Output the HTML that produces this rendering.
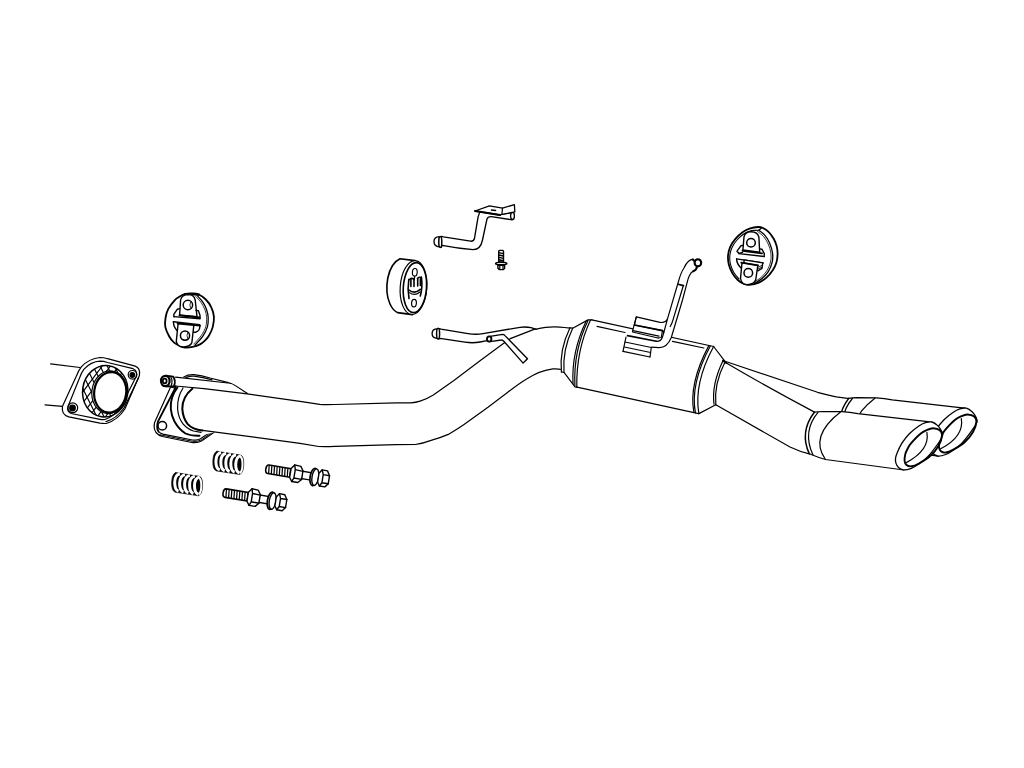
<!DOCTYPE html>
<html lang="en">
<head>
<meta charset="utf-8">
<title>Exhaust system diagram</title>
<style>
html,body{margin:0;padding:0;background:#fff;}
body{width:1024px;height:768px;overflow:hidden;font-family:"Liberation Sans",sans-serif;}
svg{display:block;position:absolute;left:0;top:0;}
.d{fill:none;stroke:#000;stroke-width:1.2;stroke-linecap:round;stroke-linejoin:round;}
.d .w{fill:#fff;}
.d .k{fill:#000;}
.d .t{stroke-width:1.6;}
.d .h{stroke-width:0.8;}
</style>
</head>
<body>
<svg class="d" width="1024" height="768" viewBox="0 0 1024 768">
<!--GASKET-->
<g id="gasket">
<path d="M50.6,363.8 L80,367.5"/>
<path d="M45,404.8 L62.5,406.3"/>
<path class="w" d="M81.3,366.9 Q89,358.5 100,357.5 Q104,357.6 107.5,358.7 L135.2,366.1 Q140.6,368 139.4,375.4 L125,408.8 Q118,420 106.3,423.5 Q103,423.6 100,423.1 L68.8,416.9 Q61,414.5 62.5,406.3 L76.3,376.3 Q78.5,370.5 81.3,366.9 Z"/>
<path d="M83.8,369.4 Q91,361.5 100,361.2 Q104,361.2 107.5,362.5 L133,368.7 Q137.5,370.5 136.3,376.2 L121,406.5 Q115,416 105,419.5 Q102,419.8 100,419.3 L71,413.5 Q66.5,411.5 68.1,406.3 L79.5,378 Q81.5,372.5 83.8,369.4 Z"/>
<path d="M138.5,378 L124,408 Q116,419 106,421.6"/>
<ellipse cx="105.2" cy="391.2" rx="22.6" ry="25.8" transform="rotate(8 105.2 391.2)" style="stroke-width:1.5"/>
<clipPath id="mc"><ellipse cx="105.2" cy="391.2" rx="22.6" ry="25.8" transform="rotate(8 105.2 391.2)"/></clipPath>
<g clip-path="url(#mc)" style="stroke-width:1.15"><path d="M109.4,341.6 L145.2,413.1 M103.7,344.4 L139.4,416.0 M97.9,347.3 L133.7,418.9 M92.2,350.2 L128.0,421.7 M86.5,353.0 L122.3,424.6 M80.8,355.9 L116.5,427.4 M75.0,358.8 L110.8,430.3 M69.3,361.6 L105.1,433.2 M63.6,364.5 L99.4,436.0 M57.9,367.3 L93.6,438.9 M52.1,370.2 L87.9,441.8"/><path d="M155.7,382.8 L107.7,446.8 M150.4,378.8 L102.4,442.8 M145.1,374.8 L97.1,438.8 M139.8,370.9 L91.8,434.9 M134.6,366.9 L86.6,430.9 M129.3,363.0 L81.3,427.0 M124.0,359.0 L76.0,423.0 M118.7,355.0 L70.7,419.0 M113.4,351.1 L65.4,415.1 M108.2,347.1 L60.2,411.1 M102.9,343.2 L54.9,407.2 M97.6,339.2 L49.6,403.2 M92.3,335.2 L44.3,399.2"/></g>
<ellipse class="w" cx="109.3" cy="392.2" rx="17.4" ry="21.4" transform="rotate(8 109.3 392.2)"/>
<ellipse class="w" cx="110.2" cy="392.3" rx="16" ry="20.3" transform="rotate(8 110.2 392.3)" style="stroke-width:2.2"/>
<circle cx="132.5" cy="374.8" r="4.3"/>
<circle class="k" cx="132.3" cy="375" r="2.3"/>
<circle cx="72.8" cy="407.8" r="4.9"/>
<circle class="k" cx="72.5" cy="408" r="2.8"/>
</g>
<!--FLANGE-->
<g id="flange">
<path d="M183.8,376.9 Q188,374.3 193.8,374.6 Q202,375.5 210,378 L227.5,382.3 Q232,383.5 235,385.6 L247.5,393.6"/>
<path d="M186,377.6 Q190,376 194,376.2 Q203,377.3 212,379.8"/>
<path class="w" d="M170.6,387 L154.6,422.5 Q153.2,428 156,432.5 Q158.5,435.5 162.5,436.5 L191.8,442.5 Q197.5,443.2 201.5,441 L213.8,432.5 L200,395 Z" />
<path d="M175.6,387.3 L158,421.5 Q156,427.5 158.5,431.5" style="stroke-width:1.8"/>
<path d="M158.8,431.9 Q160.5,433.6 163,434.2 L192.5,440 Q197.5,440.6 200.5,438.8 L210.5,432"/>
<path d="M160,434.8 L192.5,441.3 Q197.5,442 201.2,440 L212,432.6" style="stroke-width:1"/>
<circle class="w" cx="162.3" cy="425.7" r="4.3" style="stroke-width:1.5"/>
<path class="w" d="M177.5,387.3 Q170,397 170.8,408.8 Q171.5,416 174.5,421.5 Q179,429.5 185.5,433.5 Q191,436 199,435.8 L213.8,432.5 L205,389 Z" style="stroke:none"/>
<path d="M177.5,387.3 Q170,397 170.8,408.8 Q171.5,416 174.5,421.5 Q179,429.5 185.5,433.5 Q191,436 199.5,435.8" style="stroke-width:1.9"/>
<path d="M183,388 Q177.2,397 177.6,408.8 Q178.2,418 183,423.8 Q187.5,429 193.5,431 L201,432.3"/>
</g>
<!--PIPE-->
<g id="pipe">
<path class="w" style="stroke:none" d="M192.5,388.2 L247.1,393.8 L300,401.4 L319.7,404.4 L335,404.5 L396,402.8 L410.8,402.8 L420.1,401.1 L433.3,395 L453.9,380.5 L503.4,343.4 L510.9,338.3 L535.3,328.9 L555,326.8 L570,328 L561.4,369.4 L545.6,369.7 L526.9,378.6 L488,407.2 L463.3,425 L448.3,434.4 L429.5,440.9 L415.4,444.5 L396,444.7 L335,446.4 L318.8,446.5 L300,443.3 L202.5,430.3 Q190,428 184.5,416 Q181,402 192.5,388.2 Z"/>
<path d="M175.6,386 L204,388.7 L247.1,393.8 L300,401.4 L319.7,404.4 Q325,404.8 335,404.5 L396,402.8 L410.8,402.8 Q416,402.5 420.1,401.1 Q427,399 433.3,395 L453.9,380.5 L480,360.8 L503.4,343.4 L510.9,338.3"/>
<path d="M536.3,329.2 Q541,328 545.6,327.3 Q551,326.7 555,326.8 Q560,326.9 564.4,327.5 L570,328.2"/>
<path d="M202.5,430.3 L300,443.3 L318.8,446.5 Q325,446.8 335,446.4 L396,444.7 L415.4,444.5 Q423,443.5 429.5,440.9 Q440,438 448.3,434.4 Q456,430 463.3,425 L488,407.2 L508.1,392 Q520,383 527,378.8 Q540,370.5 553,368.9 Q557,368.6 561.4,369.4"/>
<path d="M192.5,388.6 Q182.2,397 182.3,408.8 Q183,418 187.5,423.8 Q192.5,429.5 202.5,430.5" style="stroke-width:2"/>
</g>
<g id="rodfront">
<path class="w" d="M166,375.4 L175.6,377.2 L232,384.2 L243,391.6 L204,387.4 L175.6,385 L166,385.8 Z" style="stroke:none"/>
<path d="M175.6,377.2 L228,383"/>
<path d="M166,375.6 L173,376.6 M166,386.3 L175.6,386.5" style="stroke-width:1.8"/>
<path d="M173.4,376.7 Q176.2,381.5 173.8,386.4" style="stroke-width:1.8"/>
<path d="M170.5,376.3 Q173.3,381 171,386.3"/>
<ellipse class="w" cx="165.3" cy="381" rx="4.3" ry="5.2" style="stroke-width:2.2"/>
<ellipse cx="164.7" cy="381" rx="1.9" ry="2.3" style="stroke-width:1.8"/>
</g>
<!--MUFFLER-->
<g id="ypipe">
<path class="w" style="stroke:none" d="M725,361.5 L833,396.3 L849.3,398 L843,411.3 L814.3,412 L809.3,453.8 L793,448.8 L716.3,405.3 Z"/>
<path d="M725,361.3 L817.5,392.3 Q830,395.6 836.3,396.8 L849.3,398.6"/>
<path d="M726.3,363 Q768,387.5 814.5,412.1"/>
<path d="M715.8,404.8 L790,447 Q800,451.8 809.3,453.8"/>
</g>
<g id="muffler">
<path class="w" style="stroke:none" d="M569.9,327.9 L588,319.9 L713.5,346.4 L725,361.5 L716,404.8 L698.9,413.6 L576.8,387 L561.6,372 Q554,350 569.9,327.9 Z"/>
<path d="M569.9,327.9 Q559.2,349.7 561.4,372"/>
<path d="M572.7,328.2 Q562.3,349.7 564,372.3"/>
<path d="M569.9,327.9 L572.7,328.2 L588,319.9 L592,319.9"/>
<path d="M561.4,372 L564,372.3 L575,386.8 L577.4,387.3"/>
<path d="M586.1,321.2 Q571.4,351.7 573,383.6"/>
<path d="M588,320.4 Q573.3,350.6 574.9,385.8"/>
<path d="M590.5,320 Q576.2,350.3 576.8,386.8"/>
<path d="M591.8,319.9 L713.6,346.5"/>
<path d="M577,387.2 L698.6,413.6"/>
<path d="M708.8,345.6 Q688.5,384 693.9,412.4"/>
<path d="M710.3,346 Q690,384 695.4,412.9"/>
<path d="M713.6,346.5 Q693.5,384 698.9,413.6"/>
<path d="M713.6,346.5 L724.6,360.8"/>
<path d="M698.9,413.6 L715.8,404.8"/>
<path d="M723.1,360.6 Q711.5,384.4 714,404.2"/>
<path d="M725,362 Q713.8,384 715.8,404.8"/>
<path d="M723.1,360.6 L725,362 L726.3,363" style="stroke-width:2"/>
<path d="M597,326.4 L625,332.5"/>
<path d="M672.5,341.3 L703.8,348"/>
</g>
<!--TIPS-->
<g id="tip2" transform="translate(34.4,-13.8)">
<path class="w" style="stroke:none" d="M814.5,412.2 L841.9,411.6 L857.8,413.6 L929.3,421.8 L904,470 L825.5,459.5 L809.3,453.8 Q802,433 814.5,412.2 Z"/>
<path d="M814.5,412.2 Q818,411.6 822,411.5 L841.9,411.6 Q850,412.3 857.8,413.6 L930,421.9"/>
<path d="M809.3,453.8 Q818,457.5 825.5,459.5 L904,470"/>
<path d="M814.3,412.2 Q799.3,432.1 809.3,453.8" style="stroke-width:1.5"/>
<path d="M818,412.3 Q802,431.3 813,455"/>
<path d="M840.5,412 Q808.9,436.4 825.5,459.5"/>
<path class="w" d="M895.5,458.5 C895.7,456.6 896.3,454.8 897.4,452.2 C898.5,449.6 900.1,446.0 902.1,442.9 C904.1,439.8 906.8,436.3 909.6,433.5 C912.4,430.7 916.2,427.8 918.9,426.0 C921.5,424.2 923.3,423.4 925.5,422.7 C927.7,422.0 930.0,421.5 932.0,422.0 C934.0,422.5 936.1,424.1 937.7,425.6 C939.3,427.1 940.8,429.5 941.6,431.2 C942.4,432.9 943.1,433.7 942.6,435.6 C942.1,437.5 941.3,438.9 938.8,442.5 C936.3,446.1 931.0,453.3 927.5,457.0 C924.0,460.7 920.7,462.6 918.0,464.5 C915.3,466.4 913.8,467.4 911.3,468.3 C908.8,469.2 905.4,470.0 903.3,469.8 C901.2,469.6 899.7,468.5 898.5,467.4 C897.3,466.3 896.5,464.9 896.0,463.4 C895.5,461.9 895.3,460.4 895.5,458.5 Z" style="stroke-width:1.3"/>
<path d="M904.6,461.0 C904.4,459.2 904.8,456.2 905.3,454.1 C905.8,452.0 906.7,450.4 907.7,448.5 C908.7,446.6 909.2,445.4 911.4,442.9 C913.6,440.4 918.2,435.6 920.8,433.5 C923.4,431.4 925.0,430.9 927.0,430.0 C929.0,429.1 930.9,428.2 933.0,428.3 C935.1,428.4 938.3,429.1 939.8,430.3 C941.3,431.5 942.2,432.8 942.0,435.4 C941.8,438.0 940.6,442.3 938.6,445.7 C936.6,449.1 933.5,453.0 930.2,456.0 C926.9,459.0 922.0,461.8 918.9,463.5 C915.8,465.2 913.5,466.1 911.4,466.3 C909.3,466.6 907.6,465.9 906.5,465.0 C905.4,464.1 904.8,462.8 904.6,461.0 Z" style="stroke-width:1.9"/>
<path d="M926.9,432.4 Q930,450 906.3,462.6"/>
</g>
<g id="tip1">
<path class="w" style="stroke:none" d="M814.5,412.2 L841.9,411.6 L857.8,413.6 L929.3,421.8 L904,470 L825.5,459.5 L809.3,453.8 Q802,433 814.5,412.2 Z"/>
<path d="M814.5,412.2 Q818,411.6 822,411.5 L841.9,411.6 Q850,412.3 857.8,413.6 L930,421.9"/>
<path d="M809.3,453.8 Q818,457.5 825.5,459.5 L904,470"/>
<path d="M814.3,412.2 Q799.3,432.1 809.3,453.8" style="stroke-width:1.5"/>
<path d="M818,412.3 Q802,431.3 813,455"/>
<path d="M840.5,412 Q808.9,436.4 825.5,459.5"/>
<path class="w" d="M895.5,458.5 C895.7,456.6 896.3,454.8 897.4,452.2 C898.5,449.6 900.1,446.0 902.1,442.9 C904.1,439.8 906.8,436.3 909.6,433.5 C912.4,430.7 916.2,427.8 918.9,426.0 C921.5,424.2 923.3,423.4 925.5,422.7 C927.7,422.0 930.0,421.5 932.0,422.0 C934.0,422.5 936.1,424.1 937.7,425.6 C939.3,427.1 940.8,429.5 941.6,431.2 C942.4,432.9 943.1,433.7 942.6,435.6 C942.1,437.5 941.3,438.9 938.8,442.5 C936.3,446.1 931.0,453.3 927.5,457.0 C924.0,460.7 920.7,462.6 918.0,464.5 C915.3,466.4 913.8,467.4 911.3,468.3 C908.8,469.2 905.4,470.0 903.3,469.8 C901.2,469.6 899.7,468.5 898.5,467.4 C897.3,466.3 896.5,464.9 896.0,463.4 C895.5,461.9 895.3,460.4 895.5,458.5 Z" style="stroke-width:1.3"/>
<path d="M904.6,461.0 C904.4,459.2 904.8,456.2 905.3,454.1 C905.8,452.0 906.7,450.4 907.7,448.5 C908.7,446.6 909.2,445.4 911.4,442.9 C913.6,440.4 918.2,435.6 920.8,433.5 C923.4,431.4 925.0,430.9 927.0,430.0 C929.0,429.1 930.9,428.2 933.0,428.3 C935.1,428.4 938.3,429.1 939.8,430.3 C941.3,431.5 942.2,432.8 942.0,435.4 C941.8,438.0 940.6,442.3 938.6,445.7 C936.6,449.1 933.5,453.0 930.2,456.0 C926.9,459.0 922.0,461.8 918.9,463.5 C915.8,465.2 913.5,466.1 911.4,466.3 C909.3,466.6 907.6,465.9 906.5,465.0 C905.4,464.1 904.8,462.8 904.6,461.0 Z" style="stroke-width:1.9"/>
<path d="M926.9,432.4 Q930,450 906.3,462.6"/>
</g>
<!--HANGERS-->
<g id="hanger1">
<path class="w" d="M191.8,293.4 C189.5,293.3 186.8,293.5 184.7,294.1 C182.6,294.7 181.0,295.8 179.3,296.8 C177.6,297.8 176.4,298.3 174.6,300.3 C172.8,302.3 169.8,306.0 168.3,308.9 C166.8,311.8 166.1,314.5 165.6,317.5 C165.1,320.5 164.7,323.8 165.3,326.9 C165.9,330.0 167.7,333.7 169.1,336.3 C170.5,338.9 172.0,340.7 173.8,342.3 C175.6,343.9 178.1,345.1 180.0,346.0 C181.9,346.9 182.9,347.4 185.0,347.5 C187.1,347.6 190.0,347.4 192.5,346.9 C195.0,346.4 197.9,345.5 200.0,344.4 C202.1,343.3 203.5,341.9 205.0,340.5 C206.5,339.1 207.6,338.1 208.9,335.8 C210.2,333.5 212.0,330.1 212.8,326.9 C213.6,323.7 214.2,320.0 213.9,316.7 C213.7,313.4 212.7,310.2 211.3,307.3 C210.0,304.4 207.9,301.6 205.8,299.5 C203.7,297.4 201.1,295.5 198.8,294.5 C196.5,293.5 194.2,293.5 191.8,293.4 Z" style="stroke-width:1.8"/>
<path d="M197.2,295.6 C198.1,296.7 201.1,299.5 202.7,301.9 C204.3,304.2 205.7,307.1 206.6,309.7 C207.5,312.3 208.1,314.6 208.2,317.5 C208.3,320.4 208.3,323.8 207.4,326.9 C206.5,330.0 204.8,333.3 202.7,336.3 C200.6,339.3 196.3,343.6 195.0,345.0" style="stroke-width:1.3"/>
<path d="M195.8,296.6 C196.7,297.6 199.7,300.4 201.2,302.6 C202.7,304.8 204.1,307.5 205.0,310.0 C205.9,312.5 206.5,314.7 206.6,317.5 C206.7,320.3 206.7,323.6 205.8,326.6 C204.9,329.6 203.2,332.7 201.2,335.6 C199.2,338.5 195.0,342.6 193.8,344.0" style="stroke-width:0.8"/>
<path d="M185,294 L199,294.6" style="stroke-width:2.2"/>
<path class="w" d="M179.6,315.2 L180.6,300 Q181.5,294.8 188.6,294.6 Q194.2,294.8 195.2,300 L197,316.8 Z" style="stroke-width:1.4"/>
<path d="M179.5,315.3 L199.5,317.5" style="stroke-width:1.9"/>
<circle cx="187.9" cy="305" r="4.7" style="stroke-width:1.5"/>
<path class="h" d="M190.6,301.8 Q188.8,305 190.8,308.4"/>
<path d="M179.6,308.6 L177.4,309.2 L173.8,314.4 L174,316.8" style="stroke-width:1.4"/>
<path d="M195.9,310.4 L198.4,310.8 L200,315.2 L200,318.4" style="stroke-width:1.4"/>
<path d="M173.8,316.6 L200,318.7" style="stroke-width:1.4"/>
<path d="M173.4,321.8 L199.6,324.6" style="stroke-width:1.4"/>
<path d="M177.6,323.4 L200,325.6" style="stroke-width:1.9"/>
<path d="M173.4,321.8 Q173.6,327.5 177,330.4" style="stroke-width:1.4"/>
<path d="M199.8,325.6 Q200.2,331 195.6,332.2 L193,332.2" style="stroke-width:1.4"/>
<path class="w" d="M178.1,323.8 L176.3,341.3 Q177,346.8 183.8,346.9 Q190.5,346.6 191.9,342.5 L193.8,325.3 Z" style="stroke-width:1.4"/>
<circle cx="185" cy="335.6" r="4.6" style="stroke-width:1.5"/>
<path class="h" d="M187.7,332.4 Q186,335.6 187.9,339"/>
</g>
<g id="hanger3">
<path class="w" d="M758.1,227.0 C755.9,227.1 752.0,227.8 749.5,228.6 C747.0,229.4 745.6,230.0 743.2,231.7 C740.9,233.4 737.6,236.2 735.4,238.8 C733.2,241.4 731.2,244.5 730.0,247.3 C728.8,250.2 728.2,253.0 728.0,255.9 C727.8,258.8 728.1,261.6 728.8,264.5 C729.5,267.4 730.8,270.5 732.3,273.1 C733.8,275.7 735.9,278.2 737.8,280.0 C739.7,281.8 741.6,282.8 743.5,283.6 C745.4,284.4 746.9,285.0 749.4,284.8 C751.9,284.6 755.9,283.8 758.8,282.6 C761.6,281.4 764.1,279.7 766.5,277.6 C768.9,275.5 771.2,272.6 772.9,270.0 C774.6,267.4 775.7,264.9 776.5,262.2 C777.3,259.5 777.6,256.2 777.6,253.6 C777.6,251.0 777.4,249.1 776.8,246.6 C776.1,244.1 775.1,241.3 773.7,238.8 C772.3,236.3 770.2,233.5 768.3,231.7 C766.4,229.9 764.2,228.6 762.5,227.8 C760.8,227.0 760.3,226.9 758.1,227.0 Z" style="stroke-width:1.8"/>
<path d="M751.0,230.8 C749.9,231.2 746.8,232.0 744.5,233.5 C742.2,235.0 739.1,237.6 737.0,240.0 C734.9,242.4 733.0,245.3 731.8,248.0 C730.6,250.7 730.0,253.3 729.8,256.0 C729.6,258.7 729.8,261.6 730.5,264.3 C731.2,267.0 732.4,269.9 733.8,272.4 C735.2,274.8 738.1,277.9 739.0,279.0" style="stroke-width:1.1"/>
<path d="M758.9,230.2 C759.9,231.1 763.3,233.4 765.1,235.6 C766.9,237.8 768.6,240.5 769.8,243.4 C771.0,246.3 772.1,249.7 772.5,252.8 C772.9,255.9 772.9,259.1 772.2,262.2 C771.5,265.3 770.0,268.9 768.3,271.6 C766.6,274.3 764.2,276.7 762.0,278.6 C759.8,280.5 756.2,282.4 755.0,283.2" style="stroke-width:1.3"/>
<path d="M757.5,231.4 C758.5,232.3 761.8,234.5 763.6,236.6 C765.4,238.7 767.0,241.3 768.2,244.0 C769.4,246.7 770.4,249.8 770.8,252.8 C771.2,255.8 771.2,259.0 770.5,262.0 C769.8,265.0 768.4,268.2 766.8,270.8 C765.2,273.4 762.9,275.7 760.8,277.6 C758.7,279.5 755.1,281.4 754.0,282.2" style="stroke-width:0.8"/>
<path d="M751.5,230.6 L758.9,230.2 L762,227.6" style="stroke-width:1.3"/>
<path class="w" d="M742.9,250 L744,236.8 Q745,231.6 751,231.7 Q757.8,231.8 758.9,237.2 L759.7,252.2 Z" style="stroke-width:1.4"/>
<path d="M742.5,250.7 L762,253.4" style="stroke-width:1.9"/>
<circle cx="751" cy="242.8" r="4.3" style="stroke-width:1.5"/>
<path d="M742.9,245.4 L740.9,245.8 L737,251.2 L739,253.5 L742.5,252.4" style="stroke-width:1.4"/>
<path d="M759.7,248.9 L762,249.3 L764.3,253.6 L764.1,256.4" style="stroke-width:1.4"/>
<path d="M739,253.6 L764.3,256.6" style="stroke-width:1.4"/>
<path d="M736.6,258.9 L763.2,263" style="stroke-width:1.4"/>
<path d="M736.6,258.9 Q736.8,264 740.8,267.8" style="stroke-width:1.4"/>
<path class="w" d="M744,259.8 L762.8,262.8 L762,268.4 L758.2,270.8 L744,266 Z" style="stroke-width:1.3"/>
<path d="M758.2,267.2 L762.4,265.2 M758.2,269 L762.2,267" style="stroke-width:0.9"/>
<path class="w" d="M742,262.6 L740.5,278.5 Q741.5,284.6 748,284.6 Q754.5,284 755.8,279.5 L757.8,265.4 Z" style="stroke-width:1.4"/>
<path d="M741.3,262.6 L758,265.4" style="stroke-width:1.9"/>
<circle cx="748.3" cy="272.9" r="4.3" style="stroke-width:1.5"/>
</g>
<g id="hanger2">
<path class="w t" d="M400,258.8 Q391,263 387.8,278 Q385,293 390,304 Q393,310.5 397.5,312.6 L412.5,314.6 L415,260.6 Z"/>
<ellipse class="w" cx="413.5" cy="287.5" rx="13.3" ry="27" transform="rotate(4 413.5 287.5)"/>
<ellipse class="w t" cx="414.9" cy="287.6" rx="11.6" ry="25" transform="rotate(4 414.9 287.6)"/>
<ellipse cx="414.8" cy="272.3" rx="2.4" ry="3.8" transform="rotate(4 414.8 272.3)"/>
<ellipse cx="414" cy="303.1" rx="2.4" ry="3.8" transform="rotate(4 414 303.1)"/>
<path class="t" d="M408.8,279.5 Q407.3,289 409,298.5"/>
<path class="t" d="M421.4,277 Q422.8,287 420.3,296"/>
<path class="t" d="M410.9,279.5 L410.9,286.5 M414,278.5 L414,286.5 M417.7,278.5 L417.7,286 M420.4,279 L420.4,285.5"/>
<path class="t" d="M409.5,279.3 Q412.5,277.3 414,279.5 M417.5,278.5 Q419.5,276.3 421,278"/>
<path class="t" d="M409,290 Q414.5,294.6 420.2,289.4"/>
<path d="M409.5,292.6 Q414.5,296.6 420,292"/>
<path d="M414.6,276.6 L414.4,279"/>
</g>
<!--RODS-->
<g id="rodA" style="stroke-width:1.35">
<path class="w" style="stroke:none" d="M440,328.6 L470,333.8 L520,327.3 L536.3,329.4 L512.5,337.2 L487,340.2 L467,341.9 L440,339 Z"/>
<path d="M439.6,328.6 L441,329.2 L468,333.6 Q476,334.9 483,333.6 L520,327.3 Q526,326.6 531,327.7 L536.3,329.4" style="stroke-width:1.35"/>
<path d="M438.8,338.9 L440,338.3 L465,342.2 Q473,343.3 480,342 L487,340.6" style="stroke-width:1.35"/>
<path d="M510.9,338.3 L535.3,328.9" style="stroke-width:1.3"/>
<path class="w" d="M437.3,328.9 Q432.1,329 432.1,333.4 Q432.1,338 437.2,338.3 Z" style="stroke-width:1.35"/>
<ellipse class="w" cx="438.1" cy="333.7" rx="1.5" ry="5.4" style="stroke-width:1.5"/>
</g>
<g id="rodB">
<path class="w" d="M490,336.4 L502.5,334.4 Q504,334.4 505,335.6 L527.5,358.8 L523.1,363.1 L503.8,341.3 Q502.5,339.8 501.3,340 L490,341.6 Z" style="stroke-width:1.35"/>
<ellipse class="w" cx="489.2" cy="339" rx="2.2" ry="2.6" style="stroke-width:1.9"/>
</g>
<g id="rodC">
<path class="w" style="stroke:none" d="M444,236.8 L471.3,241.3 L474.4,238.8 L479,213 L512,212.4 L512,219.8 L491.3,216.6 Q487.5,216.5 486.9,219.4 L482.5,240 Q480.5,249.8 473,249.6 L443.8,246.3 Z"/>
<path d="M512,219.8 L491.3,216.6 Q487.5,216.5 486.9,219.4 L482.5,240 Q480.5,249.8 473,249.6 Q458,248.5 442.1,245.4 L441.2,247.4" style="stroke-width:1.35"/>
<path d="M479.4,213.1 L478.1,216.9 L474.4,238.8 Q473.5,241.5 470.5,241.2 L443.4,236.8 L441.5,236.4" style="stroke-width:1.35"/>
<path d="M501.9,214.4 L512,212.5"/>
<ellipse class="w" cx="512.5" cy="215.9" rx="1.9" ry="3.6" style="stroke-width:1.35"/>
<path class="w" d="M439.3,236.6 Q434,236.8 434,241.5 Q434,246.5 439.3,246.8 Z" style="stroke-width:1.35"/>
<ellipse class="w" cx="440.3" cy="241.9" rx="1.5" ry="5.5" style="stroke-width:1.5"/>
<path class="w" d="M475,211 L489.4,205.9 L502.5,208.1 L514.4,204.6 L514.8,211.9 L501.9,214.4 L500,215 Z" style="stroke-width:1.3"/>
<path d="M475,211 L500,215" style="stroke-width:2"/>
<path d="M502.5,208.1 L501.9,214.4"/>
<path class="t" d="M491.5,210 L495.5,210.5"/>
</g>
<g id="rodD">
<path class="w" style="stroke:none" d="M636.3,316.9 L661.3,322.5 L667.5,318.8 L680,277.5 L686.3,263.1 L693.1,271.3 L687.5,281.3 L682.5,300 L668,336.3 L652.5,347 L650,357 L623,351.3 L627.5,335.6 L632.5,331.3 Z"/>
<path class="w" style="stroke:none" d="M667.5,318.8 L678.3,282 Q681.5,270 685.3,264 Q688,260.3 693.5,258.6 L696,269.6 Q691.5,271.5 689.5,275.5 Q688,278.5 687.3,281.8 L682.5,300 L671.3,337.5 Q667,347.8 659,347.6 L652.5,347 L656.3,341.3 Z" />
<path d="M667.5,318.8 L678.3,282 Q681,272 684,268 Q686,263.5 688.5,261.3 Q690.5,259.8 693.2,259.2"/>
<path d="M696,269.6 Q691.5,271.5 689.5,275.5 Q688,278.5 687.3,281.8 L682.5,300 L671.3,337.5 Q667,347.8 659,347.6 L651.5,347.2"/>
<path class="w" d="M636.3,316.9 L659,322.2 Q665.5,323.5 667.5,318.8 L663.8,332.5 L662.5,330.6 L634.4,325 Z"/>
<path class="t" d="M678.1,284.3 L683.5,285.6"/>
<path d="M683.2,286 L673,319.8 Q672,323.5 670.2,326.5"/>
<path d="M636.3,316.9 L632.5,331.3"/>
<path class="t" d="M634.4,325 L662.5,330.6"/>
<path d="M633,330.6 L659,336.2"/>
<path d="M632.5,332 L658,338"/>
<path d="M662.5,330.6 L661.3,337.5 L658,338"/>
<path class="t" d="M627.5,335.6 L656.3,341.3"/>
<path d="M656.3,341.3 Q661,341.5 662.3,337.5 L663.8,332.5"/>
<path d="M626,337 L623,351.3"/>
<path d="M625,342 L651.3,347.5"/>
<path d="M624.4,347 L650.6,352.5"/>
<path d="M623,351.3 L650,357"/>
<path d="M651.3,347.5 L650,357"/>
<path class="w" d="M692.8,259.6 Q697,262.5 697,266.5 Q696.6,270 693.2,271.2" style="stroke-width:2"/>
<ellipse class="w" cx="697.9" cy="262.8" rx="3.3" ry="3.6" style="stroke-width:2.1"/>
</g>
<!--HARDWARE-->
<g id="springs"><g transform="translate(0,0)"><path class="k" style="stroke-width:0.6" d="M217,451.3 L240.6,455 Q244,456.2 243.8,464.8 Q243.4,473.2 239.6,474.5 L216.4,470.9 Q212.6,469.8 212.8,461 Q213.2,452.2 217,451.3 Z"/><path d="M221.1,452.5 Q216.0,453.6 215.9,461.2 Q215.9,468.8 219.7,469.9" style="stroke:#fff;stroke-width:3;stroke-linecap:butt"/><path d="M226.1,453.3 Q220.9,454.4 220.8,462.0 Q220.8,469.6 224.7,470.7" style="stroke:#fff;stroke-width:3;stroke-linecap:butt"/><path d="M231.0,454.1 Q225.9,455.2 225.8,462.8 Q225.8,470.4 229.6,471.5" style="stroke:#fff;stroke-width:3;stroke-linecap:butt"/><path d="M236.0,454.8 Q230.8,455.9 230.8,463.5 Q230.8,471.1 234.6,472.2" style="stroke:#fff;stroke-width:3;stroke-linecap:butt"/><path d="M240.9,455.6 Q235.8,456.7 235.7,464.3 Q235.7,471.9 239.5,473.0" style="stroke:#fff;stroke-width:3;stroke-linecap:butt"/><path d="M240.2,456.4 Q242.7,458.2 242.5,464.8 Q242.3,471.5 239.8,473.2" style="stroke:#fff;stroke-width:2;stroke-linecap:butt"/></g><g transform="translate(-41.2,21.3)"><path class="k" style="stroke-width:0.6" d="M217,451.3 L240.6,455 Q244,456.2 243.8,464.8 Q243.4,473.2 239.6,474.5 L216.4,470.9 Q212.6,469.8 212.8,461 Q213.2,452.2 217,451.3 Z"/><path d="M221.1,452.5 Q216.0,453.6 215.9,461.2 Q215.9,468.8 219.7,469.9" style="stroke:#fff;stroke-width:3;stroke-linecap:butt"/><path d="M226.1,453.3 Q220.9,454.4 220.8,462.0 Q220.8,469.6 224.7,470.7" style="stroke:#fff;stroke-width:3;stroke-linecap:butt"/><path d="M231.0,454.1 Q225.9,455.2 225.8,462.8 Q225.8,470.4 229.6,471.5" style="stroke:#fff;stroke-width:3;stroke-linecap:butt"/><path d="M236.0,454.8 Q230.8,455.9 230.8,463.5 Q230.8,471.1 234.6,472.2" style="stroke:#fff;stroke-width:3;stroke-linecap:butt"/><path d="M240.9,455.6 Q235.8,456.7 235.7,464.3 Q235.7,471.9 239.5,473.0" style="stroke:#fff;stroke-width:3;stroke-linecap:butt"/><path d="M240.2,456.4 Q242.7,458.2 242.5,464.8 Q242.3,471.5 239.8,473.2" style="stroke:#fff;stroke-width:2;stroke-linecap:butt"/></g></g>
<g id="bolts" style="stroke-width:1.4"><g transform="translate(266.4,469) rotate(9.3)">
<path class="w" d="M2,-4.3 L24.5,-4.3 L24.5,4.3 L2,4.3 Q-0.6,4.3 -0.6,0 Q-0.6,-4.3 2,-4.3 Z" style="stroke-width:1.6"/>
<path d="M2.2,-3.7 L2.9,3.7 M4.9,-3.7 L5.6,3.7 M7.6,-3.7 L8.3,3.7 M10.3,-3.7 L11.0,3.7 M13.0,-3.7 L13.7,3.7 M15.7,-3.7 L16.4,3.7 M18.4,-3.7 L19.1,3.7 M21.1,-3.7 L21.8,3.7 M23.8,-3.7 L24.5,3.7 " style="stroke-width:1.25"/>
<path class="w" d="M36,-3.6 L46,-3.6 L46,3.8 L36,3.8 Z"/>
<path class="w" d="M24.3,-4.6 L27.3,-8.6 L33.6,-8.2 L36.4,-4.2 L36.4,4.6 L33.2,8.3 L27,8.3 L24.3,4.6 Z"/>
<path d="M27.3,-8.6 L28.6,-4 L28.6,4.4 L27,8.3 M28.6,-4 L36.4,-3.6 M28.6,4.4 L36.4,4.6"/>
<ellipse class="w" cx="48" cy="0.2" rx="3.6" ry="8.8" style="stroke-width:1.7"/>
<ellipse class="w" cx="49.6" cy="0.2" rx="3.3" ry="8.4"/>
<path class="w" d="M52.6,-4.4 L55.2,-8.2 L60.6,-8 L63.4,-3.6 L63.4,4.6 L60.6,8.2 L55,8.2 L52.6,4.6 Z"/>
<path d="M55.2,-8.2 L57,-3.6 L57,4.6 L55,8.2 M57,-3.6 L63.4,-3.6 M57,4.6 L63.4,4.6"/>
</g><g transform="translate(223.7,492.8) rotate(9.3)">
<path class="w" d="M2,-4.3 L24.5,-4.3 L24.5,4.3 L2,4.3 Q-0.6,4.3 -0.6,0 Q-0.6,-4.3 2,-4.3 Z" style="stroke-width:1.6"/>
<path d="M2.2,-3.7 L2.9,3.7 M4.9,-3.7 L5.6,3.7 M7.6,-3.7 L8.3,3.7 M10.3,-3.7 L11.0,3.7 M13.0,-3.7 L13.7,3.7 M15.7,-3.7 L16.4,3.7 M18.4,-3.7 L19.1,3.7 M21.1,-3.7 L21.8,3.7 M23.8,-3.7 L24.5,3.7 " style="stroke-width:1.25"/>
<path class="w" d="M36,-3.6 L46,-3.6 L46,3.8 L36,3.8 Z"/>
<path class="w" d="M24.3,-4.6 L27.3,-8.6 L33.6,-8.2 L36.4,-4.2 L36.4,4.6 L33.2,8.3 L27,8.3 L24.3,4.6 Z"/>
<path d="M27.3,-8.6 L28.6,-4 L28.6,4.4 L27,8.3 M28.6,-4 L36.4,-3.6 M28.6,4.4 L36.4,4.6"/>
<ellipse class="w" cx="48" cy="0.2" rx="3.6" ry="8.8" style="stroke-width:1.7"/>
<ellipse class="w" cx="49.6" cy="0.2" rx="3.3" ry="8.4"/>
<path class="w" d="M52.6,-4.4 L55.2,-8.2 L60.6,-8 L63.4,-3.6 L63.4,4.6 L60.6,8.2 L55,8.2 L52.6,4.6 Z"/>
<path d="M55.2,-8.2 L57,-3.6 L57,4.6 L55,8.2 M57,-3.6 L63.4,-3.6 M57,4.6 L63.4,4.6"/>
</g></g>
<g id="screw">
<path class="w" d="M498.7,251.2 Q498.7,250.4 499.6,250.4 L502.6,250.4 Q503.5,250.4 503.5,251.2 L503.5,262.5 L498.7,262.5 Z" style="stroke-width:1.4"/>
<path d="M498.9,252.6 L503.3,253.6 M498.9,255 L503.3,256 M498.9,257.4 L503.3,258.4 M498.9,259.8 L503.3,260.8 M498.9,261.8 L503.3,262.6" style="stroke-width:1.4"/>
<ellipse class="w" cx="501.2" cy="263.6" rx="5.6" ry="1.3" style="stroke-width:1.6"/>
<path class="w" d="M497.8,265.2 L498,268.4 L499.4,269.6 L503.4,269.6 L504.6,268.2 L504.6,265.2 Z" style="stroke-width:1.4"/>
<path d="M499.8,265.6 L499.8,269.4 M503,265.6 L503,269.4"/>
</g>
</svg>
</body>
</html>
